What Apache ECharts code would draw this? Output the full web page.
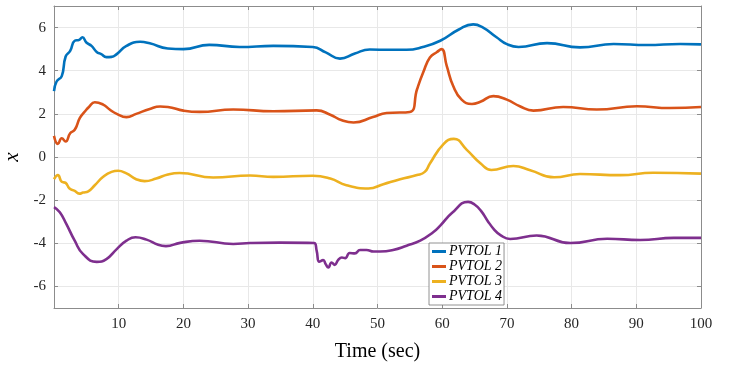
<!DOCTYPE html>
<html>
<head>
<meta charset="utf-8">
<script src="https://cdn.jsdelivr.net/npm/echarts@6/dist/echarts.min.js"></script>
<style>
  html, body { margin: 0; padding: 0; background: #fff; }
  #chart { width: 738px; height: 365px; }
</style>
</head>
<body>
<div id="chart"></div>
<script>
'use strict';
// data: [time (sec), x]
var seriesNames = ['PVTOL 1', 'PVTOL 2', 'PVTOL 3', 'PVTOL 4'];
var yTicks = [-6, -4, -2, 0, 2, 4, 6];

var pvtol1 = [[0,3.05],[0.4,3.5],[1.2,3.75],[1.8,4.66],[2.5,4.92],[3.2,5.39],[3.9,5.43],[4.4,5.55],
  [5,5.31],[5.8,5.15],[6.6,4.87],[7.3,4.77],[8.1,4.63],[8.9,4.64],[9.7,4.77],[11.2,5.15],[13.3,5.34],
  [14.8,5.27],[17.6,5.03],[20,5.0],[24,5.2],[28.7,5.1],[33.9,5.15],[40,5.1],[42,4.85],[44.2,4.56],
  [46.5,4.8],[48.8,4.98],[51.9,4.97],[54.5,4.97],[57,5.1],[59.7,5.39],[62.5,5.9],[64.8,6.15],
  [66.2,6.02],[68.4,5.55],[70,5.23],[71.8,5.1],[76.2,5.28],[81.3,5.08],[86.5,5.24],[91.6,5.19],
  [96.8,5.24],[100,5.22]];

var pvtol2 = [[0,0.98],[0.6,0.61],[1.2,0.87],[1.8,0.72],[2.5,1.1],[3.2,1.26],[4,1.81],[4.8,2.12],
  [5.4,2.32],[6.3,2.54],[7.6,2.43],[8.6,2.2],[9.7,2.0],[11.2,1.85],[12.7,2.0],[14.8,2.23],[16.4,2.34],
  [17.6,2.32],[20,2.15],[22.5,2.09],[27.7,2.2],[33.9,2.12],[40.6,2.16],[42.7,1.96],[44.5,1.7],
  [46.3,1.6],[49.3,1.85],[51.4,2.04],[55,2.09],[56.1,3.13],[57.1,3.95],[58.1,4.61],[59.2,4.87],
  [59.9,5.0],[60.7,4.22],[61.7,3.29],[63,2.66],[64.6,2.46],[65.9,2.56],[67.9,2.82],[70,2.66],
  [72,2.35],[74.1,2.15],[78.7,2.32],[83.9,2.2],[90.1,2.35],[95.2,2.27],[100,2.32]];

var pvtol3 = [[0,-1.03],[0.6,-0.84],[1.2,-1.15],[1.8,-1.2],[2.4,-1.46],[3.2,-1.57],[3.9,-1.7],
  [4.5,-1.65],[5.3,-1.59],[6.3,-1.31],[7.6,-0.92],[8.9,-0.69],[9.9,-0.64],[11.2,-0.76],[12.7,-1.03],
  [14,-1.12],[15.8,-1.0],[17.6,-0.81],[19.4,-0.74],[24.6,-0.95],[30.3,-0.86],[33.9,-0.92],[40,-0.87],
  [42.7,-1.0],[45.2,-1.31],[48.6,-1.46],[50.9,-1.26],[53.5,-1.03],[56.1,-0.84],[57.3,-0.69],
  [58.1,-0.3],[60.2,0.6],[61.8,0.84],[63.8,0.33],[65.9,-0.29],[67.6,-0.6],[71,-0.42],[73.6,-0.61],
  [77.3,-0.94],[81.3,-0.79],[87.5,-0.84],[92.6,-0.73],[100,-0.77]];

var pvtol4 = [[0,-2.32],[0.9,-2.56],[1.9,-3.1],[3.2,-3.88],[4.5,-4.5],[6.6,-4.86],[8.1,-4.73],
  [9.7,-4.27],[11.2,-3.88],[12.6,-3.72],[14.3,-3.83],[16.1,-4.07],[17.3,-4.13],[19.5,-3.98],
  [22.5,-3.88],[27.7,-4.03],[30.3,-3.99],[34.9,-3.97],[40.2,-3.99],[40.6,-4.35],[41,-4.85],
  [41.6,-4.78],[42,-4.97],[42.4,-5.12],[42.9,-4.89],[43.4,-5.0],[43.9,-4.78],[44.5,-4.66],[45,-4.69],
  [45.7,-4.45],[46.5,-4.47],[47.3,-4.31],[48.3,-4.31],[49.4,-4.38],[50.4,-4.38],[52.4,-4.31],
  [54.5,-4.11],[56.6,-3.88],[58.6,-3.49],[59.7,-3.18],[61.5,-2.6],[64,-2.08],[65,-2.2],[66,-2.5],
  [67,-2.95],[68,-3.35],[69,-3.62],[70.5,-3.8],[74.6,-3.64],[79.8,-3.99],[85.5,-3.79],[90.6,-3.85],
  [95.8,-3.75],[100,-3.75]];

var colors = ['#0072BD', '#D95319', '#EDB120', '#7E2F8E'];
var allData = [pvtol1, pvtol2, pvtol3, pvtol4];

var chart = echarts.init(document.getElementById('chart'));
var serif = '"Liberation Serif", "DejaVu Serif", serif';
var axisGray = '#8c8c8c';
var labelStyle = { color: '#262626', fontFamily: serif, fontSize: 15 };

var option = {
    animation: false,
    color: colors,
    grid: { left: 54, right: 37, top: 6, bottom: 57, containLabel: false, outerBoundsMode: 'none' },
    legend: {
        orient: 'vertical',
        left: 429,
        top: 243,
        padding: [1, 2, 1, 3],
        itemGap: 0,
        itemWidth: 14,
        itemHeight: 3,
        icon: 'rect',
        backgroundColor: '#fff',
        borderColor: '#777',
        borderWidth: 0.8,
        borderRadius: 0,
        textStyle: { fontFamily: serif, fontStyle: 'italic', fontSize: 14, lineHeight: 15, color: '#000', padding: [0, 0, 0, -2] },
        data: seriesNames
    },
    xAxis: [{
        type: 'value', min: 0, max: 100, interval: 10,
        name: 'Time (sec)', nameLocation: 'middle', nameGap: 34,
        nameTextStyle: { fontFamily: serif, fontSize: 20, color: '#000' },
        axisLine: { onZero: false, lineStyle: { color: axisGray } },
        axisTick: { inside: true, length: 4, lineStyle: { color: axisGray } },
        axisLabel: Object.assign({ margin: 9, showMinLabel: false }, labelStyle),
        splitLine: { show: true, lineStyle: { color: '#e8e8e8', width: 1 } }
    }, {
        type: 'value', min: 0, max: 100, interval: 10, position: 'top',
        axisLine: { show: true, onZero: false, lineStyle: { color: axisGray } },
        axisTick: { inside: true, length: 4, lineStyle: { color: axisGray } },
        axisLabel: { show: false },
        splitLine: { show: false }
    }],
    yAxis: [{
        type: 'value', min: -7, max: 7,
        name: 'x', nameLocation: 'middle', nameGap: 30,
        nameTextStyle: { fontFamily: serif, fontStyle: 'italic', fontSize: 21, color: '#000' },
        axisLine: { show: true, onZero: false, lineStyle: { color: axisGray } },
        axisTick: { inside: true, length: 4, customValues: yTicks, lineStyle: { color: axisGray } },
        axisLabel: Object.assign({ margin: 8, customValues: yTicks }, labelStyle),
        splitLine: { show: true, lineStyle: { color: '#e8e8e8', width: 1 } }
    }, {
        type: 'value', min: -7, max: 7, position: 'right',
        axisLine: { show: true, onZero: false, lineStyle: { color: axisGray } },
        axisTick: { inside: true, length: 4, customValues: yTicks, lineStyle: { color: axisGray } },
        axisLabel: { show: false },
        splitLine: { show: false }
    }],
    series: allData.map(function (d, i) {
        return {
            name: seriesNames[i],
            type: 'line',
            data: d,
            showSymbol: false,
            smooth: 0.5,
            lineStyle: { width: 2.6, color: colors[i] },
            z: 3
        };
    })
};
chart.setOption(option);
</script>
</body>
</html>
